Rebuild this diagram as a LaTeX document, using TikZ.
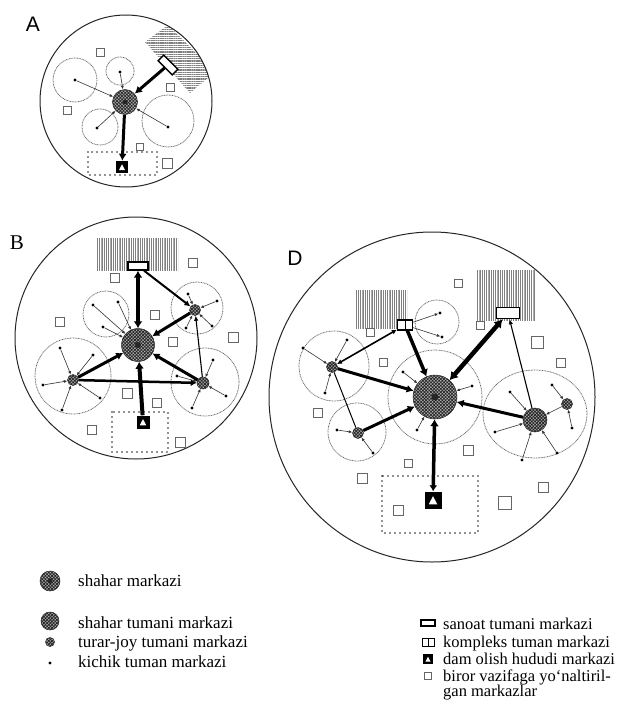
\documentclass[tikz,border=0pt]{standalone}
\usepackage{fontspec}
\setmainfont{Liberation Serif}
\newfontfamily\labelfont{Liberation Sans}
\usetikzlibrary{arrows.meta,patterns.meta,calc}
\begin{document}
\begin{tikzpicture}[x=1pt,y=-1pt,
 ring/.style={draw=black!85,line width=1pt},
 subring/.style={draw=black!60,line width=0.75pt,dash pattern=on 0.9pt off 0.7pt},
 hub/.style={circle,draw=black!85,line width=0.5pt,inner sep=0pt,preaction={fill=gray!60},pattern={Hatch[angle=45,distance=2.3pt,line width=0.8pt]},pattern color=black!85},
 kdot/.style={circle,fill=black,inner sep=0pt,minimum size=3.2pt},
 sq/.style={draw=black!60,line width=0.7pt,fill=white,inner sep=0pt,minimum size=8pt},
 dam/.style={fill=black,inner sep=0pt,minimum size=12pt,path picture={\fill[white] ($(path picture bounding box.south west)!0.5!(path picture bounding box.center)$) -- ($(path picture bounding box.south east)!0.5!(path picture bounding box.center)$) -- ($(path picture bounding box.center)!0.45!(path picture bounding box.north)$) -- cycle;}},
 ind/.style={draw=black,line width=1.3pt,fill=white,inner sep=0pt,minimum width=20pt,minimum height=8pt},
 komp/.style={draw=black,line width=1.2pt,fill=white,inner sep=0pt,minimum width=15pt,minimum height=10pt,path picture={\draw[line width=1pt] (path picture bounding box.north) -- (path picture bounding box.south);}},
 zone/.style={line width=1.8pt,dash pattern=on 0pt off 5pt,line cap=round,draw=black!85},
 hatchv/.style={pattern={Lines[angle=90,distance=1.8pt,line width=0.5pt]},pattern color=black!50},
 hatchh/.style={pattern={Lines[angle=0,distance=1.8pt,line width=0.5pt]},pattern color=black!50},
 spk/.style={line width=0.6pt,draw=black!80,-{Latex[length=3.5pt,width=3pt]}},
 thn/.style={line width=1.1pt,-{Latex[length=5pt,width=4.5pt]}},
 med/.style={line width=2pt,-{Latex[length=6pt,width=6pt]}},
 thk/.style={line width=3pt,-{Latex[length=7pt,width=8pt]}},
 vthk/.style={line width=4.5pt,{Latex[length=8pt,width=10pt]}-{Latex[length=8pt,width=10pt]}},
 lg/.style={anchor=mid west,inner sep=0pt,font=\fontsize{17}{20}\selectfont},
 lgr/.style={anchor=mid west,inner sep=0pt,font=\fontsize{16.5}{19}\selectfont},
 lbl/.style={inner sep=0pt,font=\labelfont\fontsize{21}{24}\selectfont}
]
\useasboundingbox[fill=white] (0,0) rectangle (628,706);

%================ A =================
\node[lbl] (LA) at (33,24) {A};
\begin{scope}
 \clip (126,101) circle (86);
 \fill[hatchh] (145,42) -- (168,25) -- (215,72) -- (190,93) -- cycle;
\end{scope}
\draw[ring] (126,101) circle (86);
\draw[zone] (88,152) rectangle (157,175);
\draw[subring] (75,80) circle (22);
\draw[subring] (120,71) circle (14);
\draw[subring] (100,127) circle (18);
\draw[subring] (168,121) circle (26);
\foreach \x/\y/\s [count=\i] in {100/52/8,170/87/8,67/110/8,140/147/7,167/163/10}
  \node[sq,minimum size=\s pt] (As\i) at (\x,\y) {};
\node[hub,minimum size=25pt] (Ac) at (125,102) {};
\fill[black!85] (Ac) circle (2.5);
\node[ind,rotate=-45] (Ai) at (168,65) {};
\node[dam] (Ad) at (122,167) {};
\node[kdot] (a1) at (75,80) {};
\node[kdot] (a2) at (120,72) {};
\node[kdot] (a3) at (97,128) {};
\node[kdot] (a4) at (168,127) {};
\foreach \d in {a1,a2,a3,a4} \draw[spk] (\d) -- (Ac);
\draw[thk] (Ai) -- (Ac);
\draw[thk] (Ac) -- (Ad);

%================ B =================
\node[lbl,font=\fontsize{21}{24}\selectfont] (LB) at (17,243) {B};
\fill[hatchv] (97,238) rectangle (178,270);
\draw[ring] (136,338) circle (121);
\draw[zone] (112,412) rectangle (168,452);
\draw[subring] (106,314) circle (23);
\draw[subring] (197,308) circle (26);
\draw[subring] (205,382) circle (34);
\draw[subring] (73,376) circle (38);
\foreach \x/\y/\s [count=\i] in {193/263/9,115/278/9,60/322/9,155/315/9,233/337/10,173/342/9,127/393/10,157/403/9,92/430/9,180/442/10}
  \node[sq,minimum size=\s pt] (Bs\i) at (\x,\y) {};
\node[ind] (Bi) at (138,266) {};
\node[hub,minimum size=33pt] (Bc) at (138,345) {};
\fill[black!85] (Bc) circle (3);
\node[hub,minimum size=11pt] (Br1) at (195,310) {};
\node[hub,minimum size=12pt] (Br2) at (203,383) {};
\node[hub,minimum size=11pt] (Br3) at (73,380) {};
\node[dam,minimum size=13pt] (Bd) at (143,422) {};
\node[kdot] (b1) at (93,305) {};
\node[kdot] (b2) at (118,302) {};
\node[kdot] (b3) at (103,327) {};
\foreach \d in {b1,b2,b3} \draw[spk] (\d) -- (Bc);
\foreach \x/\y [count=\i] in {188/294,217/301,212/326,186/328}
  {\node[kdot] (bu\i) at (\x,\y) {}; \draw[spk] (bu\i) -- (Br1);}
\foreach \x/\y [count=\i] in {177/376,213/360,226/396,192/408}
  {\node[kdot] (bv\i) at (\x,\y) {}; \draw[spk] (bv\i) -- (Br2);}
\foreach \x/\y [count=\i] in {60/348,93/355,43/385,62/410,100/398}
  {\node[kdot] (bw\i) at (\x,\y) {}; \draw[spk] (bw\i) -- (Br3);}
\draw[med] (Bi) -- (Br1);
\draw[thn] (Br2) -- (Br1);
\draw[line width=2.5pt,-{Latex[length=6pt,width=7pt]}] (Br3) -- (Br2);
\draw[thk] (Br1) -- (Bc);
\draw[thk] (Br3) -- (Bc);
\draw[thk] (Br2) -- (Bc);
\draw[line width=4pt,{Latex[length=7pt,width=9pt]}-{Latex[length=7pt,width=9pt]}] (Bi) -- (Bc);
\draw[line width=4pt,-{Latex[length=7pt,width=9pt]}] (Bd) -- (Bc);

%================ D =================
\node[lbl] (LD) at (295,258) {D};
\fill[hatchv] (355,290) rectangle (407,328);
\fill[hatchv] (477,270) rectangle (535,320);
\draw[ring] (432,397) ellipse [x radius=163,y radius=165];
\draw[zone] (382,476) rectangle (478,533);
\draw[subring] (437,322) circle (22);
\draw[subring] (435,397) circle (47);
\draw[subring] (334,366) circle (35);
\draw[subring] (357,432) circle (29);
\draw[subring] (535,414) ellipse [x radius=52,y radius=44];
\foreach \x/\y/\s [count=\i] in {458/283/8,480/325/8,370/332/8,383/362/8,537/342/12,561/363/9,318/413/9,468/450/10,408/463/8,362/478/10,543/487/10,505/503/13,398/510/10}
  \node[sq,minimum size=\s pt] (Ds\i) at (\x,\y) {};
\node[komp] (Dk) at (405,325) {};
\node[ind,minimum width=23pt,minimum height=11pt,line width=1.6pt] (Di) at (508,313) {};
\node[hub,minimum size=44pt] (Dc) at (435,397) {};
\fill[black!85] (Dc) circle (3.5);
\node[hub,minimum size=11pt] (Dr1) at (332,367) {};
\node[hub,minimum size=11pt] (Dr2) at (358,433) {};
\node[hub,minimum size=24pt] (Dr3) at (535,420) {};
\node[hub,minimum size=11pt] (Dr4) at (567,404) {};
\node[dam,minimum size=17pt] (Dd) at (433,500) {};
\node[kdot] (d1) at (440,313) {};
\node[kdot] (d2) at (442,337) {};
\draw[spk] (Dk) -- (d1);
\draw[spk] (Dk) -- (d2);
\foreach \x/\y [count=\i] in {403/372,472/386,417/430}
  {\node[kdot] (dc\i) at (\x,\y) {}; \draw[spk] (dc\i) -- (Dc);}
\foreach \x/\y [count=\i] in {303/348,347/340,325/393}
  {\node[kdot] (dl\i) at (\x,\y) {}; \draw[spk] (dl\i) -- (Dr1);}
\foreach \x/\y [count=\i] in {337/430,373/453}
  {\node[kdot] (dm\i) at (\x,\y) {}; \draw[spk] (dm\i) -- (Dr2);}
\foreach \x/\y [count=\i] in {510/392,495/432,522/460,557/453}
  {\node[kdot] (dr\i) at (\x,\y) {}; \draw[spk] (dr\i) -- (Dr3);}
\foreach \x/\y [count=\i] in {552/385,572/428}
  {\node[kdot] (ds\i) at (\x,\y) {}; \draw[spk] (ds\i) -- (Dr4);}
\draw[spk] (Dr4) -- (Dr3);
\draw[line width=1.6pt,{Latex[length=5pt,width=5pt]}-{Latex[length=5pt,width=5pt]}] (Dr1) -- (Dk);
\draw[line width=1pt] (Dr1) -- (Dr2);
\draw[thn] (Dr3) -- (Di);
\draw[line width=3.5pt,-{Latex[length=7pt,width=9pt]}] (Dk) -- (Dc);
\draw[vthk] (Di) -- (Dc);
\draw[thk] (Dr1) -- (Dc);
\draw[thk] (Dr2) -- (Dc);
\draw[thk] (Dr3) -- (Dc);
\draw[line width=3.5pt,{Latex[length=6pt,width=8pt]}-{Latex[length=7pt,width=9pt]}] (Dd) -- (Dc);

%================ legend =================
\node[hub,minimum size=20pt] (L1) at (50,581) {};
\fill[black!85] (L1) circle (2.5);
\node[lg] (T1) at (78,584) {shahar markazi};
\node[hub,minimum size=18pt] (L2) at (50,621) {};
\node[lg] (T2) at (78,626) {shahar tumani markazi};
\node[hub,minimum size=9pt] (L3) at (50,642) {};
\node[lg] (T3) at (78,645) {turar-joy tumani markazi};
\node[kdot] (L4) at (50,663) {};
\node[lg] (T4) at (78,665) {kichik tuman markazi};

\node[ind,minimum width=14pt,minimum height=6pt,line width=1.1pt] (R1) at (428,623) {};
\node[lgr] (U1) at (443,627) {sanoat tumani markazi};
\node[komp,minimum width=12pt,minimum height=8pt,line width=1pt] (R2) at (428,642) {};
\node[lgr] (U2) at (443,645) {kompleks tuman markazi};
\node[dam,minimum size=10pt] (R3) at (428,659) {};
\node[lgr] (U3) at (443,662) {dam olish hududi markazi};
\node[sq,minimum size=7pt] (R4) at (428,676) {};
\node[lgr] (U4) at (443,679) {biror vazifaga yo‘naltiril-};
\node[lgr] (U5) at (443,694) {gan markazlar};
\end{tikzpicture}
\end{document}
